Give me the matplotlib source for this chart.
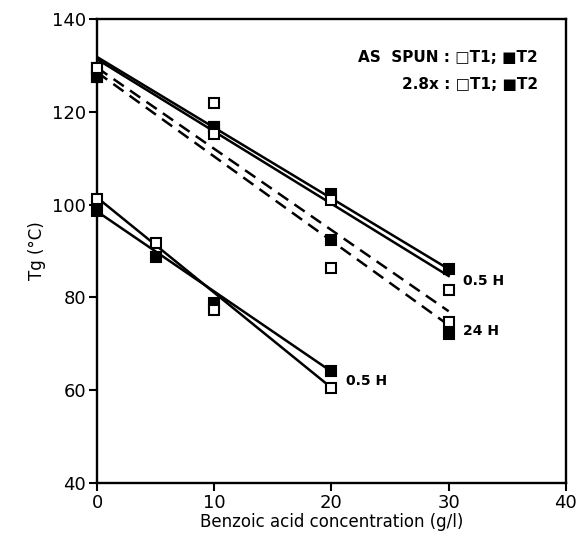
import matplotlib
matplotlib.use("Agg")
import matplotlib.pyplot as plt
import numpy as np

plt.rcParams['font.family'] = ['DejaVu Sans']

# As spun fibres (0.5 H)
x_as = [0, 5, 10, 20]
as_t1 = [101.1, 91.8, 77.2, 60.4]
as_t2 = [98.6, 88.7, 78.8, 64.2]
as_fit_x = [0, 20]
as_fit_t1 = [101.5, 60.5]
as_fit_t2 = [98.5, 64.0]

# 2.8x drawn fibres
x_dr = [0, 10, 20, 30]
dr05_t1 = [129.4, 115.1, 101.0, 81.5]
dr05_t2 = [127.6, 116.7, 102.3, 86.1]
dr24_t1 = [129.4, 121.8, 86.3, 74.7]
dr24_t2 = [127.6, 116.7, 92.3, 72.0]
dr_fit_x = [0, 30]
dr05_fit_a = [131.8, 86.1]
dr05_fit_b = [131.3, 84.6]
dr24_fit_a = [129.5, 77.0]
dr24_fit_b = [128.5, 74.0]

xticks = [0, 10, 20, 30, 40]
yticks = [40, 60, 80, 100, 120, 140]

fig = plt.figure(figsize=(5.78, 5.42), dpi=100)
ax = fig.add_axes([0.168, 0.109, 0.811, 0.856])

lw = 1.8
# fit lines
ax.plot(dr_fit_x, dr05_fit_a, color='black', lw=lw, zorder=2)
ax.plot(dr_fit_x, dr05_fit_b, color='black', lw=lw, zorder=2)
ax.plot(dr_fit_x, dr24_fit_a, color='black', lw=lw, ls=(0, (5, 3)), zorder=2)
ax.plot(dr_fit_x, dr24_fit_b, color='black', lw=lw, ls=(0, (5, 3)), zorder=2)
ax.plot(as_fit_x, as_fit_t1, color='black', lw=lw, zorder=2)
ax.plot(as_fit_x, as_fit_t2, color='black', lw=lw, zorder=2)

ms = 6.5
def pts(x, y, filled):
    ax.plot(x, y, ls='none', marker='s', ms=ms, mew=1.5, clip_on=False,
            mec='black', mfc='black' if filled else 'white', zorder=3)

pts(x_dr, dr24_t2, True)
pts(x_dr, dr05_t2, True)
pts(x_dr, dr24_t1, False)
pts(x_dr, dr05_t1, False)
pts(x_as, as_t2, True)
pts(x_as, as_t1, False)

ax.set_xlim(0, 40)
ax.set_ylim(40, 140)
ax.set_xticks(xticks)
ax.set_yticks(yticks)
ax.tick_params(direction='out', length=6, width=1.5, labelsize=13, pad=2)
for s in ax.spines.values():
    s.set_linewidth(1.7)

ax.set_xlabel('Benzoic acid concentration (g/l)', fontsize=12, labelpad=1)
ax.set_ylabel('Tg (°C)', fontsize=12, labelpad=4)

ax.text(31.2, 83.5, '0.5 H', fontsize=10, fontweight='bold', va='center', ha='left')
ax.text(31.2, 72.7, '24 H', fontsize=10, fontweight='bold', va='center', ha='left')
ax.text(21.2, 61.9, '0.5 H', fontsize=10, fontweight='bold', va='center', ha='left')

ax.text(37.6, 131.8, 'AS  SPUN : □T1; ■T2', fontsize=11, fontweight='bold', ha='right', va='center')
ax.text(37.6, 125.8, '2.8x : □T1; ■T2', fontsize=11, fontweight='bold', ha='right', va='center')

fig.savefig('out.png', dpi=100)
